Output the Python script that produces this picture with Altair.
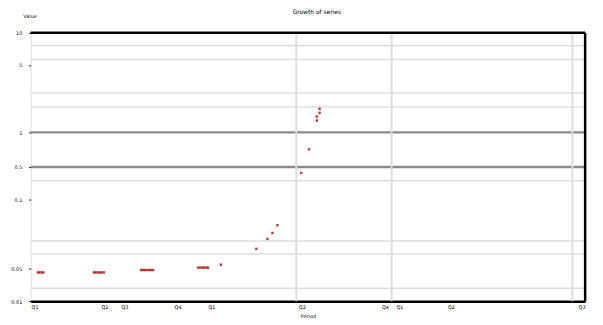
import altair as alt
import pandas as pd

# ---- data (plot units 0-100 on both axes) ----
pt_x = [1.3, 1.6, 2.0, 2.3,
        11.4, 11.7, 12.1, 12.5, 12.8, 13.2,
        19.9, 20.3, 20.6, 21.0, 21.4, 21.7, 22.1,
        30.2, 30.6, 31.0, 31.3, 31.7, 32.0,
        34.3, 40.7, 42.7, 43.6, 44.5, 48.8, 50.2, 51.6, 51.6, 52.1, 52.1]
pt_y = [10.7, 10.7, 10.7, 10.7,
        10.7, 10.7, 10.7, 10.7, 10.7, 10.7,
        11.6, 11.6, 11.6, 11.6, 11.6, 11.6, 11.6,
        12.5, 12.5, 12.5, 12.5, 12.5, 12.5,
        13.6, 19.5, 23.2, 25.4, 28.3, 47.8, 56.6, 67.3, 68.8, 70.2, 71.7]

y_minor = [95.2, 90.1, 77.6, 72.4, 44.9, 22.4, 17.6, 4.8]
y_major = [62.9, 50.0]
x_grid = [47.9, 65.1, 97.7]

y_label_vals = [100, 88, 62.9, 50, 38, 12, 0]
y_label_txt = ["10", "5", "1", "0.5", "0.1", "0.05", "0.01"]
x_label_vals = [0.7, 13.3, 16.9, 26.5, 32.6, 48.9, 52.0, 63.9, 66.5, 75.8, 100]
x_label_txt = ["Q1", "Q2", "Q3", "Q4", "Q1", "Q2", "Q3", "Q4", "Q1", "Q2", "Q3"]

title_txt = "Growth of series"
y_title = "Value"
x_title = "Period"

FONT = "DejaVu Sans"

pts = pd.DataFrame({"x": pt_x, "y": pt_y})
xs = alt.Scale(domain=[0, 100], nice=False, zero=False)
ys = alt.Scale(domain=[0, 100], nice=False, zero=False)

x_map = "{" + ",".join(f"'{v}':'{t}'" for v, t in zip(x_label_vals, x_label_txt)) + "}"
y_map = "{" + ",".join(f"'{v}':'{t}'" for v, t in zip(y_label_vals, y_label_txt)) + "}"

x_axis = alt.Axis(values=x_label_vals, labelExpr=f"{x_map}[datum.value] || ''",
                  grid=False, ticks=False, domainColor="black", domainWidth=2.5,
                  labelFontSize=5, labelFont=FONT, labelColor="black", labelPadding=3,
                  title=x_title, titleFontSize=5, titleFont=FONT, titleFontWeight="normal",
                  titlePadding=5)
y_axis = alt.Axis(values=y_label_vals, labelExpr=f"{y_map}[datum.value] || ''",
                  grid=False, ticks=True, tickSize=2, tickColor="black", domain=False,
                  labelFontSize=5, labelFont=FONT, labelColor="black", labelPadding=7,
                  title=y_title, titleFontSize=5, titleFont=FONT, titleFontWeight="normal",
                  titleAngle=0, titleX=-8, titleY=-15, titleAlign="left")

minor = alt.Chart(pd.DataFrame({"y": y_minor})).mark_rule(color="#dcdcdc", strokeWidth=1.5).encode(
    y=alt.Y("y:Q", scale=ys, axis=y_axis))
major = alt.Chart(pd.DataFrame({"y": y_major})).mark_rule(color="#8a8a8a", strokeWidth=2.5).encode(
    y=alt.Y("y:Q", scale=ys))
vgrid = alt.Chart(pd.DataFrame({"x": x_grid})).mark_rule(color="#dcdcdc", strokeWidth=2).encode(
    x=alt.X("x:Q", scale=xs, axis=x_axis))
top = alt.Chart(pd.DataFrame({"y": [100]})).mark_rule(color="black", strokeWidth=2.5).encode(
    y=alt.Y("y:Q", scale=ys))
right = alt.Chart(pd.DataFrame({"x": [100]})).mark_rule(color="black", strokeWidth=2.5).encode(
    x=alt.X("x:Q", scale=xs))
points = alt.Chart(pts).mark_square(color="#a82828", size=6, opacity=0.9).encode(
    x=alt.X("x:Q", scale=xs), y=alt.Y("y:Q", scale=ys))
title = alt.Chart(pd.DataFrame({"t": [title_txt]})).mark_text(
    fontSize=6, font=FONT, color="black", align="center", baseline="middle").encode(
    text="t:N", x=alt.value(290), y=alt.value(-21))

chart = alt.layer(minor, major, vgrid, top, right, points, title).properties(
    width=562, height=272,
    autosize=alt.AutoSizeParams(type="none"),
    padding={"left": 23, "top": 23, "right": 10, "bottom": 22},
).configure_view(stroke=None).configure(background="white")

chart.save("out.html", embed_options={"renderer": "svg", "actions": False})
